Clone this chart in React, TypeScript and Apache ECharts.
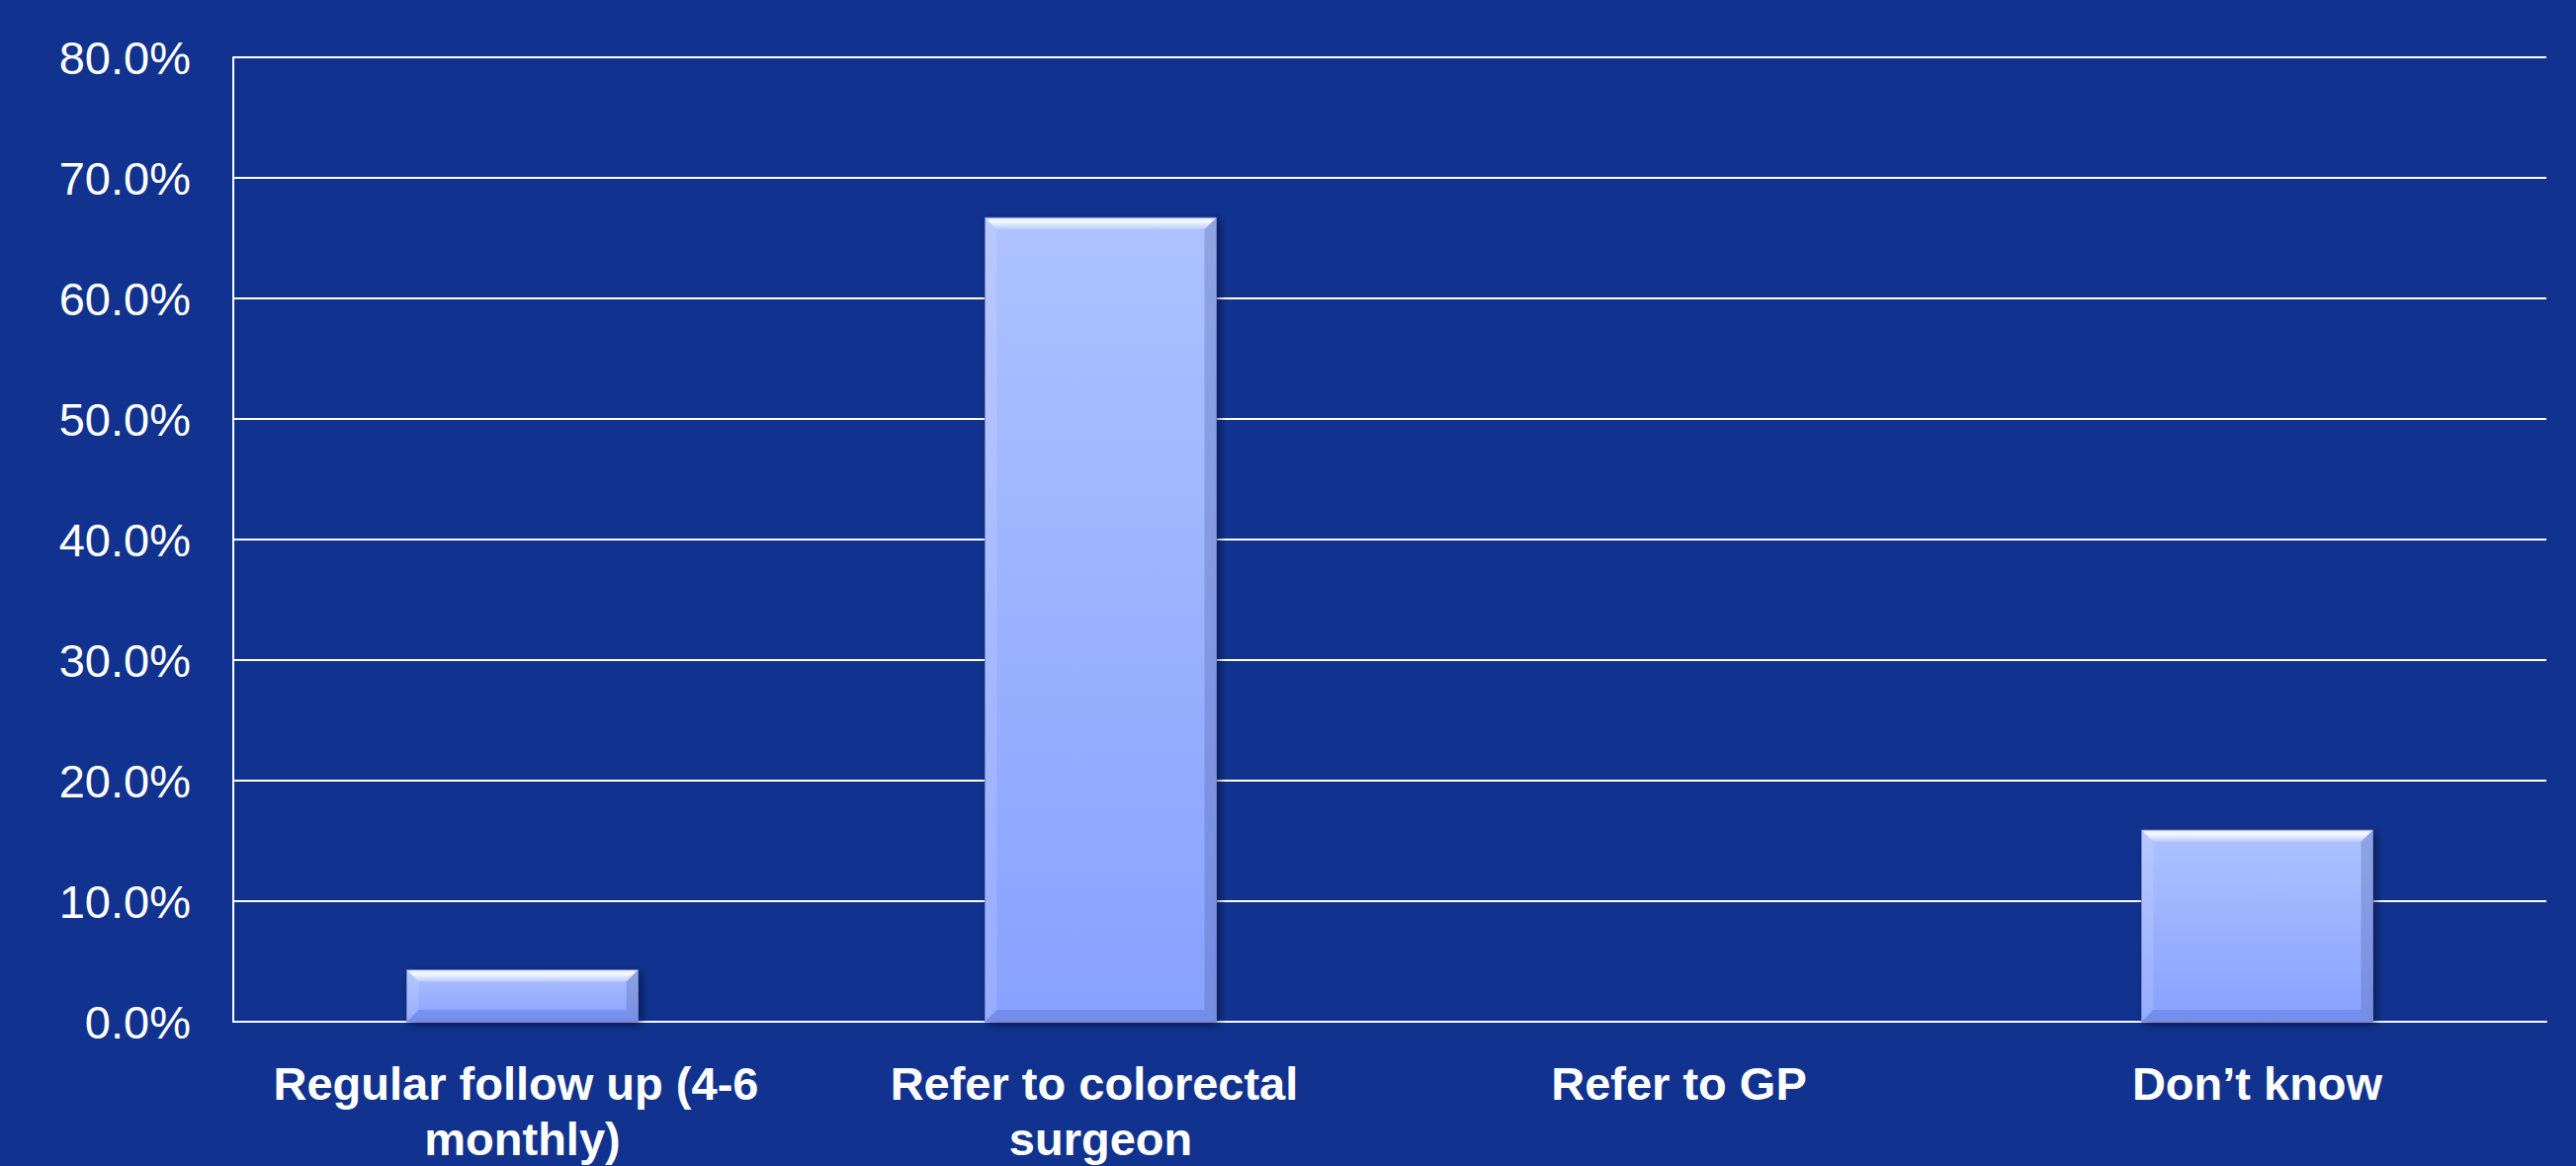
import React, { useEffect, useRef } from "react";
import * as echarts from "echarts";

const categories = [
  "Regular follow up (4-6 monthly)",
  "Refer to colorectal surgeon",
  "Refer to GP",
  "Don\u2019t know",
];
const values = [4.3, 66.7, 0, 15.9];
const yTicks = { min: 0, max: 80, interval: 10 };

export default function App() {
  const ref = useRef<HTMLDivElement>(null);
  useEffect(() => {
    document.body.style.margin = "0";
    const chart = echarts.init(ref.current!, null, { renderer: "svg" });
    const renderItem = (params: any, api: any) => {
      const xi = api.value(0);
      const v = api.value(1);
      const top = api.coord([xi, v]);
      const base = api.coord([xi, 0]);
      const bw = api.size([1, 0])[0] * 0.4;
      const l = top[0] - bw / 2;
      const r = l + bw;
      const y0 = top[1];
      const y1 = base[1];
      const h = y1 - y0;
      if (h <= 0.5) return { type: "group", children: [] };
      const b = Math.min(12, h / 2);
      return {
        type: "group",
        children: [
          {
            type: "rect",
            shape: { x: l, y: y0, width: bw, height: h },
            style: {
              fill: new echarts.graphic.LinearGradient(0, 0, 0, 1, [
                { offset: 0, color: "#AEC2FF" },
                { offset: 1, color: "#88A1FF" },
              ]),
              shadowBlur: 8,
              shadowColor: "rgba(0,0,20,0.55)",
              shadowOffsetX: 3,
              shadowOffsetY: 3,
            },
          },
          {
            type: "polygon",
            shape: { points: [[l, y0], [r, y0], [r - b, y0 + b], [l + b, y0 + b]] },
            style: {
              fill: new echarts.graphic.LinearGradient(0, 0, 0, 1, [
                { offset: 0, color: "#E6EEFF" },
                { offset: 0.35, color: "#F4F8FF" },
                { offset: 1, color: "#B6C8FF" },
              ]),
            },
          },
          {
            type: "polygon",
            shape: { points: [[l, y0], [l + b, y0 + b], [l + b, y1 - b], [l, y1]] },
            style: { fill: "rgba(255,255,255,0.12)" },
          },
          {
            type: "polygon",
            shape: { points: [[r, y0], [r, y1], [r - b, y1 - b], [r - b, y0 + b]] },
            style: { fill: "rgba(70,85,150,0.28)" },
          },
          {
            type: "polygon",
            shape: { points: [[l, y1], [l + b, y1 - b], [r - b, y1 - b], [r, y1]] },
            style: { fill: "rgba(60,80,190,0.25)" },
          },
          {
            type: "rect",
            shape: { x: l, y: y0, width: bw, height: h },
            style: { fill: "none", stroke: "#7283CC", lineWidth: 1 },
          },
        ],
      };
    };
    chart.setOption({
      animation: false,
      backgroundColor: "#11338F",
      grid: { left: 236, right: 30, top: 58, bottom: 133 },
      xAxis: {
        type: "category",
        data: categories,
        axisLine: { show: true, lineStyle: { color: "#FFFFFF", width: 2 } },
        axisTick: { show: false },
        axisLabel: {
          color: "#FFFFFF",
          fontFamily: "Liberation Sans, Arial, sans-serif",
          fontWeight: "bold",
          fontSize: 47,
          lineHeight: 56,
          margin: 34,
          width: 560,
          overflow: "break",
          interval: 0,
        },
      },
      yAxis: {
        type: "value",
        min: yTicks.min,
        max: yTicks.max,
        interval: yTicks.interval,
        axisLine: { show: true, lineStyle: { color: "#FFFFFF", width: 2 } },
        axisTick: { show: false },
        splitLine: { lineStyle: { color: "#FFFFFF", width: 2 } },
        axisLabel: {
          color: "#FFFFFF",
          fontFamily: "Liberation Sans, Arial, sans-serif",
          fontSize: 47,
          margin: 43,
          formatter: (v: number) => v.toFixed(1) + "%",
        },
      },
      series: [
        {
          type: "custom",
          renderItem,
          data: values.map((v, i) => [i, v]),
          encode: { x: 0, y: 1 },
          z: 3,
        },
      ],
    });
    return () => chart.dispose();
  }, []);
  return <div ref={ref} style={{ width: 2606, height: 1180 }} />;
}
